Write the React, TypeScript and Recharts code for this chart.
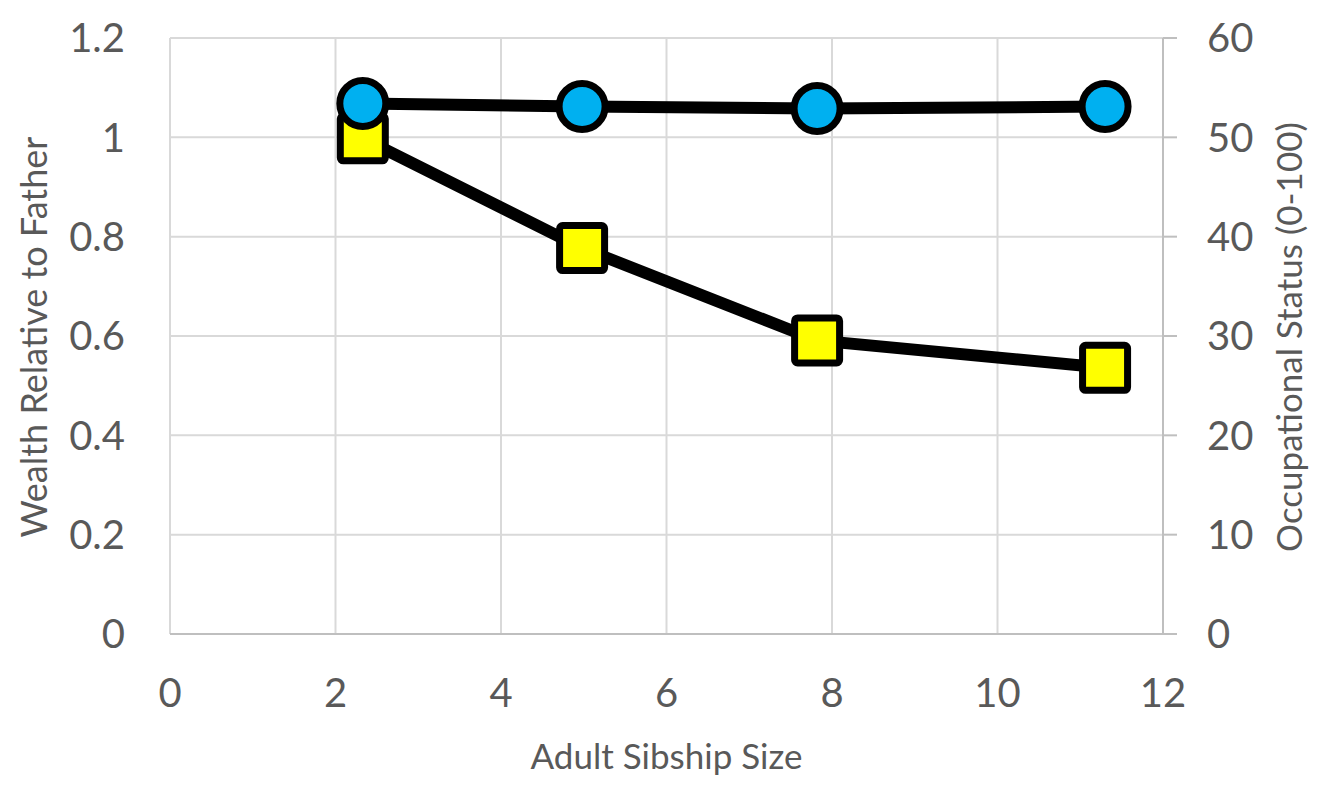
import React from 'react';
import {
    ComposedChart,
    Line,
    XAxis,
    YAxis,
    CartesianGrid,
} from 'recharts';

// values
const sibshipSize = [2.33, 4.98, 7.82, 11.3];
const wealthRelative = [0.998, 0.777, 0.591, 0.536];
const occupationalStatus = [53.4, 53.1, 52.9, 53.1];

const xTicks = [0, 2, 4, 6, 8, 10, 12];
const leftTicks = [0, 0.2, 0.4, 0.6, 0.8, 1, 1.2];
const rightTicks = [0, 10, 20, 30, 40, 50, 60];

const data = sibshipSize.map((size, i) => ({
    size,
    wealth: wealthRelative[i],
    status: occupationalStatus[i],
}));

const FONT = 'Lato, "Open Sans", sans-serif';
const TEXT = '#595959';

const SquareDot = (props: any) => {
    const { cx, cy, index } = props;
    if (cx == null || cy == null) return null;
    const s = 45;
    return (
        <rect
            key={`sq-${index}`}
            x={cx - s / 2}
            y={cy - s / 2}
            width={s}
            height={s}
            rx={3}
            fill="#ffff00"
            stroke="#000"
            strokeWidth={7}
        />
    );
};

// rotated axis title, baseline at viewBox.x + dx
const VerticalTitle = (props: any) => {
    const { viewBox, text, dx, size } = props;
    const x = viewBox.x + dx;
    const y = viewBox.y + viewBox.height / 2 + 1;
    return (
        <text
            x={x}
            y={y}
            transform={`rotate(-90, ${x}, ${y})`}
            textAnchor="middle"
            fill={TEXT}
            fontSize={size}
            fontFamily={FONT}
        >
            {text}
        </text>
    );
};

const App: React.FC = () => {
    const tickStyle = { fill: TEXT, fontSize: 40, fontFamily: FONT };

    return (
        <div style={{ width: 1313, height: 781 }}>
            <ComposedChart
                width={1313}
                height={781}
                data={data}
                margin={{ top: 30, right: 0, left: 0, bottom: 0 }}
            >
                <CartesianGrid
                    stroke="#d9d9d9"
                    strokeWidth={2}
                    yAxisId="left"
                    horizontalValues={leftTicks}
                    verticalValues={xTicks}
                />

                <XAxis
                    type="number"
                    dataKey="size"
                    domain={[0, 12]}
                    ticks={xTicks}
                    interval={0}
                    height={155}
                    axisLine={{ stroke: '#bfbfbf', strokeWidth: 2 }}
                    tickLine={false}
                    tickSize={0}
                    tickMargin={45}
                    tick={tickStyle}
                    label={{
                        value: 'Adult Sibship Size',
                        position: 'insideBottom',
                        offset: 20,
                        fill: TEXT,
                        fontSize: 35,
                        fontFamily: FONT,
                    }}
                />

                <YAxis
                    yAxisId="left"
                    orientation="left"
                    domain={[0, 1.2]}
                    ticks={leftTicks}
                    interval={0}
                    width={162}
                    axisLine={false}
                    tickLine={false}
                    tickSize={0}
                    tickMargin={45}
                    tick={tickStyle}
                    label={<VerticalTitle text="Wealth Relative to Father" dx={39} size={36} />}
                />

                <YAxis
                    yAxisId="right"
                    orientation="right"
                    domain={[0, 60]}
                    ticks={rightTicks}
                    interval={0}
                    width={158}
                    axisLine={{ stroke: '#bfbfbf', strokeWidth: 2 }}
                    tickLine={{ stroke: '#bfbfbf', strokeWidth: 2 }}
                    tickSize={14}
                    tickMargin={30}
                    tick={{ ...tickStyle, textAnchor: 'start' }}
                    label={<VerticalTitle text="Occupational Status (0-100)" dx={139} size={35} />}
                />

                <Line
                    yAxisId="left"
                    dataKey="wealth"
                    stroke="#000"
                    strokeWidth={12}
                    dot={<SquareDot />}
                    activeDot={false}
                    isAnimationActive={false}
                />

                <Line
                    yAxisId="right"
                    dataKey="status"
                    stroke="#000"
                    strokeWidth={12}
                    dot={{ r: 23, fill: '#00b0f0', stroke: '#000', strokeWidth: 7 }}
                    activeDot={false}
                    isAnimationActive={false}
                />
            </ComposedChart>
        </div>
    );
};

export default App;
